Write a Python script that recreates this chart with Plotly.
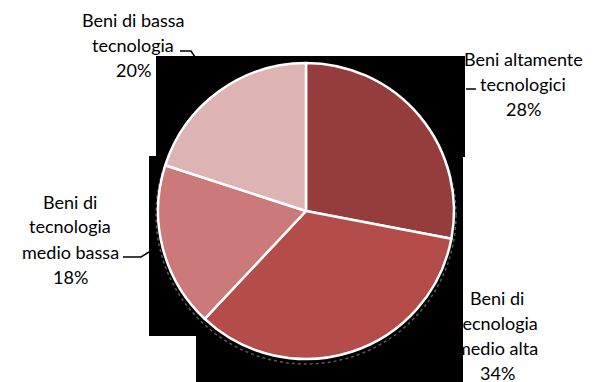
import plotly.graph_objects as go

W, H = 593, 382

categories = ["Beni altamente\ntecnologici", "Beni di\ntecnologia\nmedio alta",
              "Beni di\ntecnologia\nmedio bassa", "Beni di bassa\ntecnologia"]
values = [28, 34, 18, 20]
colors = ["#953C3C", "#B44C4A", "#CB7A79", "#DDB3B3"]

# label centres (pixels) and leader lines
label_pos = [(523, 84), (497, 335), (70, 239), (133, 45)]
leaders = [
    [(466, 89), (476, 89)],
    [],
    [(123, 257), (141, 257), (149, 252)],
    [(180, 51), (191, 51), (195, 57)],
]

def px(x):
    return x / W

def py(y):
    return 1 - y / H

fig = go.Figure()
fig.add_trace(go.Pie(
    labels=[c.replace("\n", " ") for c in categories],
    values=values,
    sort=False,
    direction="clockwise",
    rotation=0,
    textinfo="none",
    hoverinfo="label+percent",
    marker=dict(colors=colors, line=dict(color="white", width=2.5)),
    domain=dict(x=[px(158), px(454)], y=[py(359), py(63)]),
    showlegend=False,
))

# black background artefact behind the chart area
shapes = []
for (x0, y0, x1, y1) in [(156, 56, 465, 157), (149, 156, 463, 336), (196, 335, 463, 382)]:
    shapes.append(dict(type="rect", xref="paper", yref="paper", layer="below",
                       x0=px(x0), x1=px(x1), y0=py(y1), y1=py(y0),
                       fillcolor="black", line=dict(width=0)))
# faint dotted shadow around the pie
shapes.append(dict(type="circle", xref="paper", yref="paper", layer="below",
                   x0=px(306 - 150), x1=px(306 + 150), y0=py(215 + 149), y1=py(215 - 149),
                   line=dict(color="#5a5a5a", width=1.5, dash="dot")))
for pts in leaders:
    if len(pts) < 2:
        continue
    path = "M " + " L ".join(f"{px(x)},{py(y)}" for x, y in pts)
    shapes.append(dict(type="path", xref="paper", yref="paper", path=path,
                       line=dict(color="black", width=1.5)))

annotations = []
total = sum(values)
line_h = 25
for cat, v, (cx, cy) in zip(categories, values, label_pos):
    lines = cat.split("\n") + [f"{round(100 * v / total)}%"]
    n = len(lines)
    for i, t in enumerate(lines):
        y = cy + (i - (n - 1) / 2) * line_h
        annotations.append(dict(x=px(cx), y=py(y), xref="paper", yref="paper",
                                text=t, showarrow=False, xanchor="center", yanchor="middle",
                                font=dict(family="Lato", size=18, color="black")))

fig.update_layout(
    width=W, height=H,
    margin=dict(l=0, r=0, t=0, b=0),
    paper_bgcolor="white", plot_bgcolor="white",
    shapes=shapes, annotations=annotations,
)
fig.write_html("out.html")
